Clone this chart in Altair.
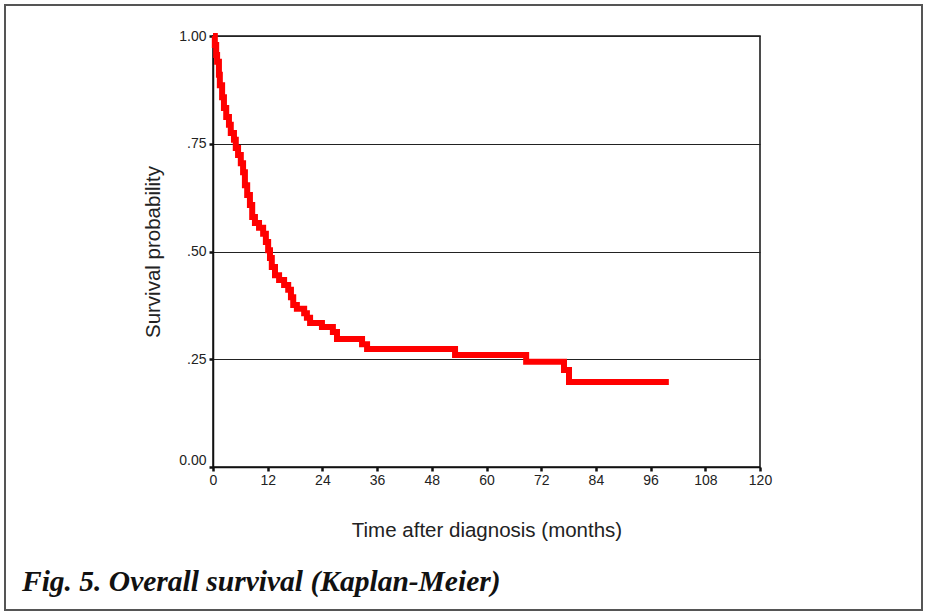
import altair as alt
import pandas as pd

# Kaplan-Meier step curve (time in months, survival after the step)
times = [0, 0.4, 0.7, 0.9, 1.3, 1.5, 2.0, 2.4, 2.9, 3.5, 3.9, 4.6, 5.0, 5.5, 6.1, 6.6,
         7.0, 7.5, 8.1, 8.6, 9.2, 10.1, 11.0, 11.6, 12.1, 12.5, 12.9, 13.6, 14.5, 15.6,
         16.5, 17.1, 17.6, 18.4, 20.0, 20.6, 21.3, 23.9, 26.3, 27.2, 32.7, 33.8, 53.1,
         68.7, 77.0, 78.1, 100.0]
survival = [1.0, 0.979, 0.956, 0.94, 0.91, 0.886, 0.858, 0.833, 0.812, 0.794, 0.775,
            0.759, 0.740, 0.724, 0.705, 0.684, 0.654, 0.631, 0.608, 0.580, 0.566, 0.555,
            0.541, 0.522, 0.503, 0.485, 0.464, 0.445, 0.434, 0.422, 0.411, 0.394, 0.376,
            0.367, 0.357, 0.346, 0.334, 0.325, 0.313, 0.297, 0.285, 0.274, 0.260, 0.244,
            0.225, 0.197, 0.197]
x_ticks = [0, 12, 24, 36, 48, 60, 72, 84, 96, 108, 120]
y_ticks = [0, 0.25, 0.5, 0.75, 1.0]
caption = "Fig. 5. Overall survival (Kaplan-Meier)"
x_title = "Time after diagnosis (months)"
y_title = "Survival probability"

df = pd.DataFrame({"t": times, "s": survival})
one = pd.DataFrame({"k": [0]})

curve = alt.Chart(df).mark_line(
    interpolate="step-after", color="#ff0000", strokeWidth=6, strokeJoin="miter"
).encode(
    x=alt.X("t:Q", scale=alt.Scale(domain=[0, 120], nice=False),
            axis=alt.Axis(values=x_ticks, title=x_title, grid=False, labelFlush=False,
                          titlePadding=33, labelPadding=2)),
    y=alt.Y("s:Q", scale=alt.Scale(domain=[0, 1], nice=False),
            axis=alt.Axis(values=y_ticks, title=y_title, grid=True, labelFlush=False,
                          labelExpr="datum.value == 0 ? '0.00' : datum.value == 1 ? '1.00' : replace(format(datum.value, '.2f'), '0.', '.')",
                          labelBaseline=alt.condition("datum.value == 0", alt.value("bottom"), alt.value("middle")),
                          titlePadding=15, labelPadding=3)),
)

frame = alt.Chart(one).mark_rect(fill=None, stroke="#555555", strokeWidth=2).encode(
    x=alt.value(-208), x2=alt.value(709), y=alt.value(-31), y2=alt.value(574)
)

cap = alt.Chart(one).mark_text(
    align="left", baseline="alphabetic", font="Liberation Serif", fontSize=29.5,
    fontWeight="bold", fontStyle="italic", color="#111111"
).encode(x=alt.value(-191), y=alt.value(555), text=alt.value(caption))

chart = alt.layer(curve, frame, cap).properties(
    width=547, height=431,
    autosize=alt.AutoSizeParams(type="none"),
    padding={"left": 213, "top": 36, "right": 170, "bottom": 148},
    background="white",
).configure_view(
    stroke="#111111", strokeWidth=1.5
).configure_axis(
    labelFont="Liberation Sans", labelFontSize=14, labelColor="#222222",
    titleFont="Liberation Sans", titleFontSize=20.5, titleFontWeight="normal", titleColor="#222222",
    domainColor="#111111", domainWidth=1.5, tickColor="#111111", tickSize=4, tickWidth=2.5,
    gridColor="#222222", gridWidth=1, gridOpacity=1,
)

chart.save("out.html", embed_options={"renderer": "svg", "actions": False})
